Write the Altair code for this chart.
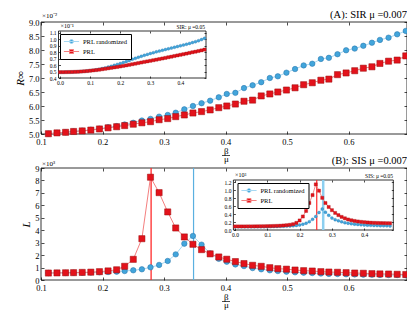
import altair as alt
import pandas as pd

SERIF = "Liberation Serif"
series = ["PRL randomized", "PRL"]

# ---------------- data ----------------
x_main = [0.112, 0.126, 0.140, 0.153, 0.167, 0.181, 0.195, 0.209, 0.223, 0.236,
          0.250, 0.264, 0.278, 0.292, 0.306, 0.319, 0.333, 0.347, 0.361, 0.375,
          0.389, 0.402, 0.416, 0.430, 0.444, 0.458, 0.472, 0.485, 0.499, 0.513,
          0.527, 0.541, 0.555, 0.568, 0.582, 0.596, 0.610, 0.624, 0.638, 0.651,
          0.665, 0.679, 0.693]
sir_randomized = [5.01, 5.04, 5.06, 5.09, 5.12, 5.15, 5.19, 5.24, 5.28, 5.34,
                  5.40, 5.48, 5.54, 5.62, 5.68, 5.76, 5.88, 6.00, 6.10, 6.19,
                  6.31, 6.43, 6.47, 6.64, 6.74, 6.85, 7.00, 7.06, 7.19, 7.32,
                  7.45, 7.51, 7.68, 7.72, 7.85, 7.99, 8.05, 8.15, 8.26, 8.36,
                  8.44, 8.56, 8.68]
sir_prl = [5.01, 5.04, 5.06, 5.09, 5.11, 5.14, 5.18, 5.22, 5.26, 5.30,
           5.35, 5.40, 5.44, 5.51, 5.55, 5.62, 5.68, 5.75, 5.80, 5.86,
           5.94, 6.00, 6.07, 6.17, 6.21, 6.36, 6.43, 6.50, 6.57, 6.65,
           6.76, 6.83, 6.92, 6.96, 7.12, 7.18, 7.26, 7.35, 7.40, 7.52,
           7.60, 7.64, 7.79]
sis_randomized = [0.56, 0.57, 0.57, 0.58, 0.59, 0.60, 0.62, 0.64, 0.67, 0.72,
                  0.78, 0.86, 1.02, 1.21, 1.53, 2.06, 2.92, 3.54, 2.84, 2.14,
                  1.70, 1.47, 1.25, 1.12, 0.96, 0.86, 0.78, 0.72, 0.67, 0.62,
                  0.59, 0.56, 0.52, 0.49, 0.48, 0.46, 0.45, 0.43, 0.43, 0.41,
                  0.40, 0.40, 0.38]
sis_prl = [0.56, 0.57, 0.58, 0.59, 0.61, 0.63, 0.67, 0.73, 0.82, 1.10,
           1.66, 3.32, 8.26, 7.02, 5.47, 4.18, 3.46, 2.87, 2.44, 2.10,
           1.85, 1.67, 1.48, 1.32, 1.18, 1.10, 0.99, 0.91, 0.87, 0.80,
           0.75, 0.72, 0.67, 0.64, 0.62, 0.59, 0.56, 0.54, 0.51, 0.49,
           0.48, 0.46, 0.44]

x_inset = [0.00, 0.01, 0.02, 0.03, 0.04, 0.05, 0.06, 0.07, 0.08, 0.09,
           0.10, 0.11, 0.12, 0.13, 0.14, 0.15, 0.16, 0.17, 0.18, 0.19,
           0.20, 0.21, 0.22, 0.23, 0.24, 0.25, 0.26, 0.27, 0.28, 0.29,
           0.30, 0.31, 0.32, 0.33, 0.34, 0.35, 0.36, 0.37, 0.38, 0.39,
           0.40, 0.41, 0.42, 0.43, 0.44, 0.45, 0.46, 0.47, 0.48]
sir_inset_randomized = [0.490, 0.490, 0.491, 0.492, 0.493, 0.495, 0.497, 0.500, 0.504, 0.508,
                        0.514, 0.520, 0.527, 0.535, 0.545, 0.556, 0.568, 0.581, 0.595, 0.610,
                        0.624, 0.640, 0.655, 0.671, 0.688, 0.703, 0.720, 0.735, 0.750, 0.764,
                        0.778, 0.790, 0.803, 0.815, 0.827, 0.839, 0.850, 0.862, 0.874, 0.885,
                        0.897, 0.909, 0.921, 0.933, 0.946, 0.960, 0.975, 0.992, 1.012]
sir_inset_prl = [0.490, 0.490, 0.491, 0.492, 0.493, 0.495, 0.497, 0.500, 0.503, 0.507,
                 0.512, 0.517, 0.522, 0.528, 0.535, 0.542, 0.549, 0.556, 0.563, 0.570,
                 0.578, 0.586, 0.594, 0.603, 0.612, 0.621, 0.630, 0.639, 0.648, 0.656,
                 0.665, 0.674, 0.683, 0.692, 0.701, 0.710, 0.720, 0.729, 0.739, 0.748,
                 0.758, 0.767, 0.777, 0.787, 0.797, 0.806, 0.816, 0.826, 0.838]
sis_inset_randomized = [0.080, 0.080, 0.080, 0.080, 0.081, 0.081, 0.082, 0.082, 0.083, 0.084,
                        0.085, 0.086, 0.088, 0.090, 0.092, 0.095, 0.098, 0.102, 0.108, 0.116,
                        0.127, 0.145, 0.170, 0.210, 0.270, 0.340, 0.440, 0.530, 0.450, 0.370,
                        0.300, 0.260, 0.230, 0.205, 0.185, 0.170, 0.158, 0.148, 0.140, 0.133,
                        0.127, 0.122, 0.118, 0.114, 0.111, 0.108, 0.106, 0.104, 0.102]
sis_inset_prl = [0.090, 0.090, 0.090, 0.090, 0.091, 0.091, 0.092, 0.093, 0.094, 0.095,
                 0.097, 0.099, 0.102, 0.105, 0.109, 0.114, 0.121, 0.131, 0.146, 0.180,
                 0.240, 0.340, 0.480, 0.680, 0.880, 1.150, 0.990, 0.810, 0.680, 0.580,
                 0.500, 0.430, 0.375, 0.330, 0.295, 0.265, 0.245, 0.228, 0.215, 0.205,
                 0.197, 0.190, 0.185, 0.181, 0.178, 0.175, 0.173, 0.171, 0.170]

sis_peak_main = [0.348, 0.279]    # randomized, PRL
sis_peak_inset = [0.273, 0.253]   # randomized, PRL

main_x_ticks = [0.1, 0.2, 0.3, 0.4, 0.5, 0.6]
sir_y_ticks = [5.0, 5.5, 6.0, 6.5, 7.0, 7.5, 8.0, 8.5, 9.0]
sis_y_ticks = [0, 1, 2, 3, 4, 5, 6, 7, 8, 9]
inset_x_ticks = [0.0, 0.1, 0.2, 0.3, 0.4]
sir_inset_y_ticks = [0.4, 0.5, 0.6, 0.7, 0.8, 0.9, 1.0, 1.1]
sis_inset_y_ticks = [0.0, 0.2, 0.4, 0.6, 0.8, 1.0, 1.2]

# ---------------- styling / layout ----------------
BLUE_F, BLUE_S, BLUE_L = "#42a5db", "#2270a8", "#a6d8f2"
RED_F, RED_S, RED_L = "#e3121b", "#9b0a0a", "#f47f7f"

W, H = 366, 300
P = {
    "A": dict(xd=[0.1, 0.695], xr=[0, W], yd=[5.0, 9.0], yr=[126, 14]),
    "B": dict(xd=[0.1, 0.695], xr=[0, W], yd=[0, 9], yr=[272, 160]),
    "iA": dict(xd=[-0.005, 0.485], xr=[17.5, 165], yd=[0.4, 1.125], yr=[70, 23]),
    "iB": dict(xd=[-0.005, 0.49], xr=[192.4, 352.3], yd=[0, 1.26], yr=[222, 172]),
}


def sx(p):
    return alt.Scale(domain=P[p]["xd"], range=P[p]["xr"], nice=False, zero=False)


def sy(p):
    return alt.Scale(domain=P[p]["yd"], range=P[p]["yr"], nice=False, zero=False)


def mk_axis(orient, offset, values, labels=True, fmt=".1f", size=8.5, pad=3.0, tick=3, **kw):
    return alt.Axis(orient=orient, offset=offset, values=values, labels=labels, format=fmt,
                    labelFont=SERIF, labelFontSize=size, labelColor="black", labelPadding=pad,
                    labelFlush=False, labelOverlap=False, domain=False, grid=False,
                    tickSize=tick, tickColor="black", tickWidth=0.7, **kw)


def offsets(p, tick):
    d = P[p]
    return dict(bottom=-(H - d["yr"][0]) - tick, top=-d["yr"][1] - tick,
                left=-d["xr"][0] - tick, right=-(W - d["xr"][1]) - tick)


one = pd.DataFrame({"k": [0]})


def frame(p, xa, ya, visible=True):
    d = P[p]
    return alt.Chart(one).mark_rect(filled=False, stroke="black", strokeWidth=0.8,
                                    strokeOpacity=1 if visible else 0).encode(
        x=alt.X(datum=d["xd"][0], type="quantitative", scale=sx(p), axis=xa),
        x2=alt.X2(datum=d["xd"][1]),
        y=alt.Y(datum=d["yd"][0], type="quantitative", scale=sy(p), axis=ya),
        y2=alt.Y2(datum=d["yd"][1]),
    )


def panel_frames(p, xticks, yticks, yfmt, size, tick, xpad, ypad, ytitle=None):
    o = offsets(p, tick)
    if ytitle:
        kwl = dict(title=ytitle, titleFont=SERIF, titleFontSize=11, titleFontStyle="italic",
                   titleFontWeight="normal", titleColor="black", titlePadding=3)
    else:
        kwl = dict(title=None)
    f1 = frame(p,
               mk_axis("bottom", o["bottom"], xticks, size=size, pad=xpad, tick=tick, title=None),
               mk_axis("left", o["left"], yticks, fmt=yfmt, size=size, pad=ypad, tick=tick, **kwl))
    f2 = frame(p,
               mk_axis("top", o["top"], xticks, labels=False, tick=tick, title=None),
               mk_axis("right", o["right"], yticks, labels=False, tick=tick, title=None),
               visible=False)
    return [f1, f2]


def enc(p, yf):
    return dict(x=alt.X("x:Q", scale=sx(p), axis=None), y=alt.Y(f"{yf}:Q", scale=sy(p), axis=None))


def line(p, df, yf, color, w=1.0):
    return alt.Chart(df).mark_line(color=color, strokeWidth=w).encode(**enc(p, yf))


def pts(p, df, yf, shape, fill, stroke, size, sw=0.5):
    return alt.Chart(df).mark_point(shape=shape, filled=True, fill=fill, stroke=stroke,
                                    strokeWidth=sw, size=size, opacity=1).encode(**enc(p, yf))


CIRCLE_PATH = "M-1.9,0H1.9M0.5,0A0.5,0.5,0,1,1,-0.5,0A0.5,0.5,0,1,1,0.5,0Z"
SQUARE_PATH = "M-1.9,0H1.9M-0.5,-0.5H0.5V0.5H-0.5Z"


def legend_lines(p, xs, ys_rand, ys_prl, lx, ly):
    df = pd.DataFrame({"x": xs + xs, "y": ys_rand + ys_prl,
                       "series": [series[0]] * len(xs) + [series[1]] * len(xs)})
    leg = alt.Legend(orient="none", legendX=lx, legendY=ly, title=None, direction="vertical",
                     strokeColor="black", fillColor="white", padding=3, cornerRadius=0,
                     labelFont=SERIF, labelFontSize=6.5, labelColor="black", labelOffset=7,
                     rowPadding=1, symbolSize=64, symbolStrokeWidth=1, symbolOffset=4,
                     symbolType=alt.ExprRef(expr=f"datum.value === 'PRL' ? '{SQUARE_PATH}' : '{CIRCLE_PATH}'"),
                     symbolFillColor=alt.ExprRef(expr=f"datum.value === 'PRL' ? '{RED_F}' : '{BLUE_F}'"))
    return alt.Chart(df).mark_line(strokeWidth=0.9).encode(
        x=alt.X("x:Q", scale=sx(p), axis=None),
        y=alt.Y("y:Q", scale=sy(p), axis=None),
        color=alt.Color("series:N", scale=alt.Scale(domain=series, range=[BLUE_L, RED_L]), legend=leg),
    )


def text(label, x, y, size, align="left", style="normal"):
    return alt.Chart(pd.DataFrame({"t": [label]})).mark_text(
        align=align, baseline="alphabetic", font=SERIF, fontSize=size, fontStyle=style,
        color="black").encode(x=alt.value(x), y=alt.value(y), text="t:N")


def frac_bar(xc, y):
    return alt.Chart(one).mark_rule(color="black", strokeWidth=0.7).encode(
        x=alt.value(xc - 4), x2=alt.value(xc + 4), y=alt.value(y))


def vrule(p, xv, color, w):
    d = P[p]
    return alt.Chart(pd.DataFrame({"x": [xv]})).mark_rule(color=color, strokeWidth=w).encode(
        x=alt.X("x:Q", scale=sx(p), axis=None),
        y=alt.Y(datum=d["yd"][0], type="quantitative", scale=sy(p), axis=None),
        y2=alt.Y2(datum=d["yd"][1]))


dfA = pd.DataFrame({"x": x_main, "r": sir_randomized, "p": sir_prl})
dfB = pd.DataFrame({"x": x_main, "r": sis_randomized, "p": sis_prl})
dfiA = pd.DataFrame({"x": x_inset, "r": sir_inset_randomized, "p": sir_inset_prl})
dfiB = pd.DataFrame({"x": x_inset, "r": sis_inset_randomized, "p": sis_inset_prl})

layers = []
layers += panel_frames("A", main_x_ticks, sir_y_ticks, ".1f", 8.5, 3, 3.5, 2, "R∞")
layers += panel_frames("B", main_x_ticks, sis_y_ticks, "d", 8.5, 3, 3.5, 2, "L")
layers += panel_frames("iA", inset_x_ticks, sir_inset_y_ticks, ".1f", 5.5, 2, 2, 2.5)
layers += panel_frames("iB", inset_x_ticks, sis_inset_y_ticks, ".1f", 5.5, 2, 2, 2.5)

layers += [
    vrule("B", sis_peak_main[1], "#ff2a2a", 1.3),
    vrule("B", sis_peak_main[0], "#5ab0e0", 1.2),
    vrule("iB", sis_peak_inset[1], "#ff2a2a", 1.2),
    vrule("iB", sis_peak_inset[0], "#8ccff0", 2.5),
    line("A", dfA, "r", BLUE_L), line("A", dfA, "p", RED_L),
    line("B", dfB, "r", BLUE_L), line("B", dfB, "p", RED_L),
    legend_lines("iA", x_inset, sir_inset_randomized, sir_inset_prl, 19, 26),
    legend_lines("iB", x_inset, sis_inset_randomized, sis_inset_prl, 196.5, 175),
    pts("A", dfA, "r", "circle", BLUE_F, BLUE_S, 30),
    pts("A", dfA, "p", "square", RED_F, RED_S, 38),
    pts("B", dfB, "r", "circle", BLUE_F, BLUE_S, 30),
    pts("B", dfB, "p", "square", RED_F, RED_S, 38),
    pts("iA", dfiA, "r", "circle", BLUE_F, BLUE_S, 9, 0.3),
    pts("iA", dfiA, "p", "square", RED_F, RED_S, 10, 0.3),
    pts("iB", dfiB, "r", "circle", BLUE_F, BLUE_S, 9, 0.3),
    pts("iB", dfiB, "p", "square", RED_F, RED_S, 10, 0.3),
    text("(A): SIR μ =0.007", W, 9.5, 10.5, "right"),
    text("(B): SIS μ =0.007", W, 155.5, 10.5, "right"),
    text("×10⁻²", 1, 10, 7),
    text("×10³", 1, 158, 7),
    text("×10⁻¹", 19.5, 19.5, 6),
    text("SIR: μ =0.05", 164, 21, 5.5, "right"),
    text("×10³", 194, 169, 6),
    text("SIS: μ =0.05", 352, 169.5, 5.5, "right"),
    text("β", 183, 145.5, 9), text("μ", 183, 154, 9), frac_bar(185, 147.5),
    text("β", 183, 291.5, 9), text("μ", 183, 300, 9), frac_bar(185, 293.5),
]

chart = alt.layer(*layers).resolve_scale(
    x="independent", y="independent", color="independent"
).properties(
    width=W, height=H,
    autosize=alt.AutoSizeParams(type="none"),
    padding={"left": 33, "top": 0, "right": 0, "bottom": 4},
).configure_view(strokeWidth=0)

chart.save("out.html", embed_options={"renderer": "svg", "actions": False})
